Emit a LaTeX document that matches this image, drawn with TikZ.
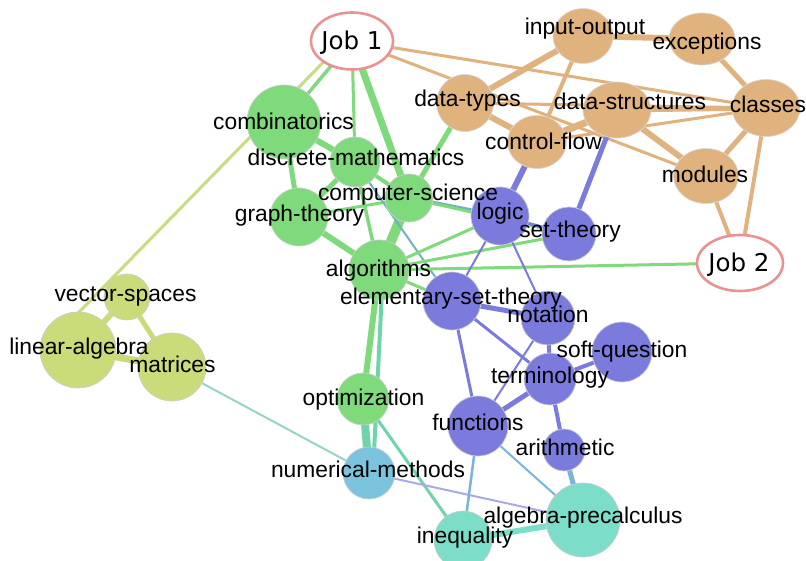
\documentclass[tikz,border=0pt]{standalone}
\usepackage{fontspec}
\newfontfamily\lblfam{Liberation Sans}
\newfontfamily\jobfam{DejaVu Sans}
\usetikzlibrary{shapes.geometric}
\definecolor{cgr}{RGB}{126,218,122}
\definecolor{ctan}{RGB}{224,178,126}
\definecolor{cbl}{RGB}{123,123,222}
\definecolor{cyg}{RGB}{202,220,122}
\definecolor{cteal}{RGB}{124,222,200}
\definecolor{cnm}{RGB}{124,196,222}
\definecolor{cpink}{RGB}{234,146,146}
\definecolor{egb}{RGB}{112,178,190}
\definecolor{eyg}{RGB}{196,222,128}
\definecolor{elt}{RGB}{150,212,200}
\definecolor{elav}{RGB}{170,170,232}
\definecolor{elb}{RGB}{120,180,222}
\definecolor{etg}{RGB}{112,212,170}
\pgfdeclarelayer{edgelayer}
\pgfdeclarelayer{textlayer}
\pgfsetlayers{edgelayer,main,textlayer}
\begin{document}
\begin{tikzpicture}[x=1pt,y=-1pt,
  nd/.style={circle, inner sep=0pt, minimum size=#1, draw=black!20, line width=0.7pt},
  tn/.style 2 args={ellipse, inner sep=0pt, minimum width=#1, minimum height=#2, draw=black!15, line width=0.7pt, fill=ctan},
  job/.style={ellipse, inner sep=0pt, minimum width=82, minimum height=57, draw=cpink, line width=2.6pt, fill=white},
  lbl/.style={anchor=base, inner sep=0pt, font=\lblfam\fontsize{22.8}{26}\selectfont},
  joblbl/.style={anchor=base, inner sep=0pt, font=\jobfam\fontsize{24.5}{28}\selectfont},
  lw/.style={line width=#1}]
\useasboundingbox (0,0) rectangle (806,561);

% ---------- nodes ----------
\node[job] (job1) at (352,41) {};
\node[job, minimum width=86, minimum height=56] (job2) at (740,263) {};

\node[nd=74, fill=cgr] (comb) at (284,122) {};
\node[nd=50, fill=cgr] (disc) at (355,162) {};
\node[nd=48, fill=cgr] (cs) at (409,198) {};
\node[nd=58, fill=cgr] (graph) at (299,217) {};
\node[nd=60, fill=cgr] (algo) at (379,270) {};
\node[nd=52, fill=cgr] (opt) at (363,399) {};
\node[nd=52, fill=cnm] (num) at (369,473) {};

\node[nd=58, fill=cbl] (logic) at (500,216) {};
\node[nd=54, fill=cbl] (sett) at (569,234) {};
\node[nd=58, fill=cbl] (est) at (452,301) {};
\node[nd=54, fill=cbl] (nota) at (548,318) {};
\node[nd=60, fill=cbl] (soft) at (622,352) {};
\node[nd=52, fill=cbl] (term) at (550,379) {};
\node[nd=60, fill=cbl] (func) at (478,426) {};
\node[nd=42, fill=cbl] (arith) at (564,450) {};

\node[nd=74, fill=cteal] (algp) at (583,520) {};
\node[nd=58, fill=cteal] (ineq) at (463,540) {};

\node[nd=76, fill=cyg] (linalg) at (78,350) {};
\node[nd=46, fill=cyg] (vecsp) at (127,297) {};
\node[nd=68, fill=cyg] (matr) at (172,367) {};

\node[tn={57}{57}] (dtypes) at (465,103) {};
\node[tn={60}{55}] (inout) at (583,36) {};
\node[tn={66}{52}] (exc) at (702,39) {};
\node[tn={68}{56}] (dstruct) at (617,110) {};
\node[tn={68}{57}] (classes) at (766,108) {};
\node[tn={59}{53}] (cflow) at (537,142) {};
\node[tn={65}{55}] (modules) at (706,176) {};

% ---------- edges ----------
\begin{pgfonlayer}{edgelayer}
\fill[white] (0,0) rectangle (806,561);
% Job 1
\draw[lw=3, eyg] ([xshift=-8]job1.center) -- ([xshift=-36]linalg.center);
\draw[lw=3.5, cgr] (job1.center) -- (comb.center);
\draw[lw=3, cgr] (job1.center) -- (disc.center);
\draw[lw=7, cgr] (job1.center) -- (cs.center);
\draw[lw=3, ctan] (job1.center) -- (classes.center);
\draw[lw=3, ctan] (job1.center) -- (modules.center);
% green cluster
\draw[lw=6, cgr] (comb.center) -- (disc.center);
\draw[lw=5, cgr] (comb.center) -- (graph.center);
\draw[lw=5, cgr] (disc.center) -- (graph.center);
\draw[lw=4, cgr] (disc.center) -- (cs.center);
\draw[lw=3, cgr] (graph.center) -- (cs.center);
\draw[lw=6, cgr] (graph.center) -- (algo.center);
\draw[lw=3.5, cgr] (disc.center) -- (algo.center);
\draw[lw=10, cgr] (cs.center) -- (algo.center);
\draw[lw=4, egb] (cs.center) -- (logic.center);
\draw[lw=3, cgr] (cs.center) -- (sett.center);
\draw[lw=2, egb] (disc.center) -- (est.center);
\draw[lw=3, cgr] (algo.center) -- (logic.center);
\draw[lw=3, cgr] (algo.center) -- (sett.center);
\draw[lw=3, cgr] (algo.center) -- (est.center);
\draw[lw=3, cgr] (algo.center) -- (job2.center);
\draw[lw=6, cgr] (algo.center) -- (opt.center);
\draw[lw=4, etg] ([xshift=4]algo.center) -- ([xshift=4]num.center);
\draw[lw=8, etg] (opt.center) -- (num.center);
\draw[lw=3, etg] (opt.center) -- (ineq.center);
\draw[lw=5, cgr] (dtypes.center) -- (cs.center);
% lower
\draw[lw=2, elt] (matr.center) -- (num.center);
\draw[lw=2, elav] (num.center) -- (algp.center);
\draw[lw=2.5, elb] (func.center) -- (ineq.center);
\draw[lw=2, elb] (func.center) -- (algp.center);
\draw[lw=6, cteal] (ineq.center) -- (algp.center);
\draw[lw=5, elb] (arith.center) -- (algp.center);
% blue cluster
\draw[lw=2, cbl] (logic.center) -- (est.center);
\draw[lw=2, cbl] (logic.center) -- (nota.center);
\draw[lw=3, cbl] (logic.center) -- (sett.center);
\draw[lw=5, cbl] (est.center) -- (nota.center);
\draw[lw=3, cbl] (est.center) -- (term.center);
\draw[lw=3, cbl] (est.center) -- (func.center);
\draw[lw=4, cbl] (nota.center) -- (term.center);
\draw[lw=2, cbl] (nota.center) -- (func.center);
\draw[lw=4, cbl] (term.center) -- (soft.center);
\draw[lw=5, cbl] (term.center) -- (func.center);
\draw[lw=4, cbl] (term.center) -- (arith.center);
\draw[lw=6, cbl] (cflow.center) -- (logic.center);
\draw[lw=5, cbl] (dstruct.center) -- (sett.center);
% tan cluster
\draw[lw=6, ctan] (dtypes.center) -- (inout.center);
\draw[lw=6, ctan] (dtypes.center) -- (cflow.center);
\draw[lw=3, ctan] (dtypes.center) -- (classes.center);
\draw[lw=4, ctan] (cflow.center) -- (inout.center);
\draw[lw=7, ctan] (cflow.center) -- (dstruct.center);
\draw[lw=3, ctan] (cflow.center) -- (classes.center);
\draw[lw=6, ctan] (inout.center) -- (exc.center);
\draw[lw=5, ctan] (exc.center) -- (classes.center);
\draw[lw=5, ctan] (classes.center) -- (modules.center);
\draw[lw=6, ctan] (dstruct.center) -- (modules.center);
\draw[lw=5, ctan] (dstruct.center) -- (classes.center);
\draw[lw=4, ctan] (classes.center) -- (job2.center);
\draw[lw=4, ctan] (modules.center) -- (job2.center);
% linear algebra
\draw[lw=6, cyg] (linalg.center) -- (vecsp.center);
\draw[lw=7, cyg] (linalg.center) -- (matr.center);
\draw[lw=5, cyg] (vecsp.center) -- (matr.center);
\end{pgfonlayer}

% ---------- labels ----------
\begin{pgfonlayer}{textlayer}
\node[joblbl] (tjob1) at (352,50) {Job 1};
\node[joblbl] (tjob2) at (739,272) {Job 2};
\node[lbl] (tcomb) at (283.5,130) {combinatorics};
\node[lbl] (tdisc) at (356,166) {discrete-mathematics};
\node[lbl] (tcs) at (408,201) {computer-science};
\node[lbl] (tgraph) at (299.5,222) {graph-theory};
\node[lbl] (talgo) at (378.5,277) {algorithms};
\node[lbl] (test) at (451,305) {elementary-set-theory};
\node[lbl] (tlogic) at (500,220) {logic};
\node[lbl] (tsett) at (570,238) {set-theory};
\node[lbl] (tnota) at (548,323) {notation};
\node[lbl] (tsoft) at (622,357) {soft-question};
\node[lbl] (tterm) at (550,383) {terminology};
\node[lbl] (tfunc) at (478,430) {functions};
\node[lbl] (tarith) at (565,455) {arithmetic};
\node[lbl] (talgp) at (583,523) {algebra-precalculus};
\node[lbl] (tineq) at (465,543) {inequality};
\node[lbl] (tnum) at (368,477) {numerical-methods};
\node[lbl] (topt) at (363.5,405) {optimization};
\node[lbl] (tlinalg) at (79,354) {linear-algebra};
\node[lbl] (tvecsp) at (125.5,302) {vector-spaces};
\node[lbl] (tmatr) at (172.5,373) {matrices};
\node[lbl] (tdtypes) at (467.5,107) {data-types};
\node[lbl] (tinout) at (585,35) {input-output};
\node[lbl] (texc) at (707,50) {exceptions};
\node[lbl] (tdstruct) at (630,110) {data-structures};
\node[lbl] (tclasses) at (768,113) {classes};
\node[lbl] (tcflow) at (543.5,150) {control-flow};
\node[lbl] (tmodules) at (705,183) {modules};
\end{pgfonlayer}
\end{tikzpicture}
\end{document}
